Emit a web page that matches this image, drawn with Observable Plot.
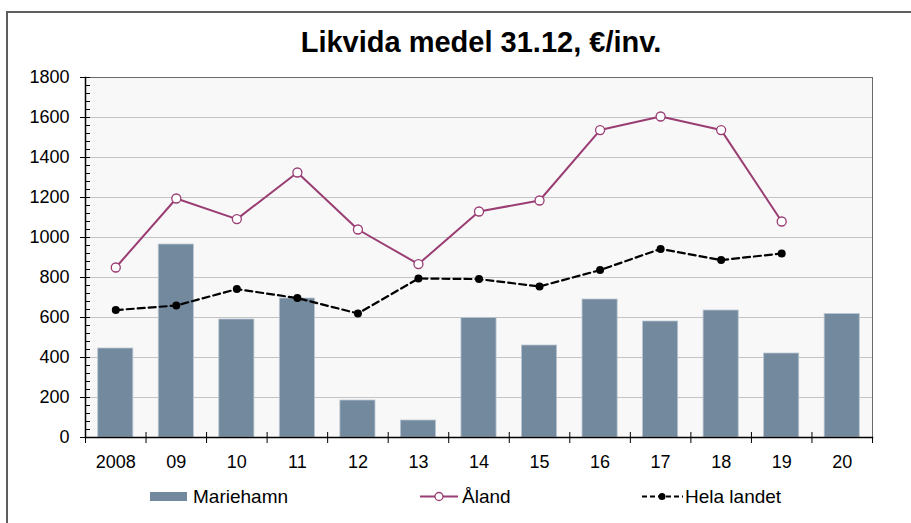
<!DOCTYPE html>
<html><head><meta charset="utf-8">
<script src="https://cdn.jsdelivr.net/npm/d3@7"></script>
<script src="https://cdn.jsdelivr.net/npm/@observablehq/plot@0.6"></script>
<style>
body{margin:0;background:#fff;overflow:hidden;font-family:"Liberation Sans",Arial,sans-serif;}
#wrap{position:relative;width:911px;height:523px;overflow:hidden;}
#frame{position:absolute;left:6px;top:11px;width:1000px;height:1000px;border-left:2px solid #5e5e5e;border-top:2px solid #5e5e5e;}
#title{position:absolute;left:231px;width:500px;top:28px;line-height:29px;text-align:center;font-weight:bold;font-size:29px;color:#000;white-space:nowrap;}
#chart{position:absolute;left:0;top:0;}
.leg{position:absolute;top:487px;height:19px;line-height:19px;font-size:19px;color:#000;white-space:nowrap;}
</style></head>
<body>
<div id="wrap">
<div id="frame"></div>
<div id="chart"></div>
<div id="title">Likvida medel 31.12, €/inv.</div>
<div id="legend"></div>
</div>
<script>
const years = ["2008","09","10","11","12","13","14","15","16","17","18","19","20"];
const mariehamn = [445, 965, 590, 695, 185, 85, 597, 460, 690, 580, 635, 420, 617];
const aland = [850, 1195, 1092, 1325, 1040, 867, 1130, 1185, 1537, 1605, 1537, 1080];
const helaLandet = [637, 660, 742, 697, 620, 795, 792, 755, 837, 943, 887, 920];
const seriesNames = ["Mariehamn", "Åland", "Hela landet"];
const yMajor = d3.range(0, 1801, 200);
const yMinor = d3.range(0, 1801, 40).filter(d => d % 200 !== 0);

const colBar = "#73899e", colAland = "#993d73", colHela = "#000000";
const W = 911, H = 523, mL = 85, mR = 39, mT = 77, mB = 86;
const step = (W - mL - mR) / years.length;

const barData = years.map((y, i) => ({year: y, v: mariehamn[i]}));
const alandData = aland.map((v, i) => ({year: years[i], v}));
const helaData = helaLandet.map((v, i) => ({year: years[i], v}));

const plot = Plot.plot({
  width: W, height: H,
  marginLeft: mL, marginRight: mR, marginTop: mT, marginBottom: mB,
  style: {fontFamily: "'Liberation Sans', Arial, sans-serif", fontSize: "18px", color: "#000", background: "transparent", overflow: "visible"},
  x: {type: "band", domain: years, paddingInner: 0.42, paddingOuter: 0.21, round: false, label: null},
  y: {domain: [0, 1800], label: null},
  marks: [
    Plot.frame({fill: "#f8f8f8"}),
    Plot.gridY(yMajor, {stroke: "#c4c4c4", strokeOpacity: 1}),
    Plot.barY(barData, {x: "year", y: "v", fill: colBar, stroke: "#b9c5d1", strokeWidth: 0.8}),
    Plot.line(helaData, {x: "year", y: "v", stroke: colHela, strokeWidth: 2.2, strokeDasharray: "7,4"}),
    Plot.dot(helaData, {x: "year", y: "v", fill: colHela, r: 4}),
    Plot.line(alandData, {x: "year", y: "v", stroke: colAland, strokeWidth: 2}),
    Plot.dot(alandData, {x: "year", y: "v", fill: "#fff", stroke: colAland, strokeWidth: 1.3, r: 4.5}),
    Plot.frame({stroke: "#6a6a6a"}),
    Plot.frame({anchor: "left", stroke: "#000", strokeWidth: 1.5}),
    Plot.frame({anchor: "bottom", stroke: "#000", strokeWidth: 1.5}),
    Plot.axisY(yMinor, {tickSize: -5, text: null, stroke: "#000"}),
    Plot.axisY(yMajor, {tickSize: -5, text: null, stroke: "#000"}),
    Plot.axisY(yMajor, {tickSize: 5, tickPadding: 11, stroke: "#000", fill: "#000", tickFormat: d => String(d)}),
    Plot.axisX(years, {tickSize: 6, text: null, dx: -step / 2, stroke: "#000"}),
    Plot.axisX(years, {tickSize: -5, text: null, dx: -step / 2, stroke: "#000"}),
    Plot.axisX([years[years.length - 1]], {tickSize: 6, text: null, dx: step / 2, stroke: "#000"}),
    Plot.axisX(years, {tickSize: 0, tickPadding: 18, fill: "#000"})
  ]
});
document.getElementById("chart").appendChild(plot);

// legend
const legend = document.getElementById("legend");
function item(swatchSvg, swLeft, swWidth, text, textLeft) {
  const s = document.createElement("div");
  s.className = "leg";
  s.style.left = swLeft + "px";
  s.style.width = swWidth + "px";
  s.innerHTML = swatchSvg;
  legend.appendChild(s);
  const t = document.createElement("div");
  t.className = "leg";
  t.style.left = textLeft + "px";
  t.textContent = text;
  legend.appendChild(t);
}
item(`<svg width="37" height="19"><rect x="0" y="5" width="37" height="9" fill="${colBar}"/></svg>`, 150, 37, seriesNames[0], 193);
item(`<svg width="38" height="19"><line x1="0" x2="38" y1="9.5" y2="9.5" stroke="${colAland}" stroke-width="2"/><circle cx="19" cy="9.5" r="4" fill="#fff" stroke="${colAland}" stroke-width="1.3"/></svg>`, 420, 38, seriesNames[1], 462);
item(`<svg width="41" height="19"><line x1="0" x2="41" y1="9.5" y2="9.5" stroke="${colHela}" stroke-width="2" stroke-dasharray="5,3"/><circle cx="20" cy="9.5" r="3.5" fill="${colHela}"/></svg>`, 642, 41, seriesNames[2], 685);
</script>
</body></html>
